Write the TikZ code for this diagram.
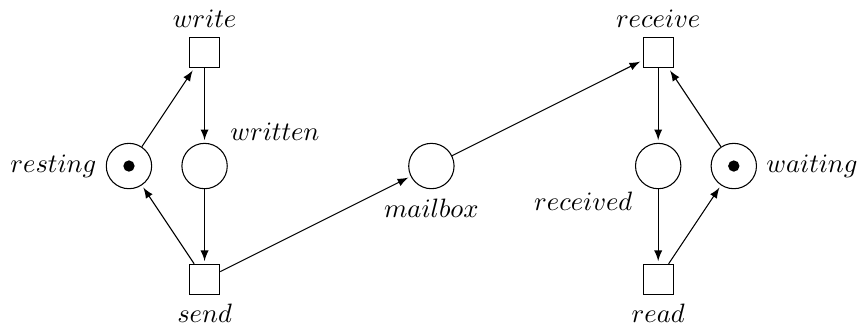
\documentclass[tikz,border=0pt]{standalone}
\usetikzlibrary{arrows}
\begin{document}
\begin{tikzpicture}[
  place/.style={circle,draw,minimum size=6mm,inner sep=0pt},
  transition/.style={rectangle,draw,minimum size=4mm,inner sep=0pt},
  token/.style={circle,fill=black,draw=none,inner sep=0pt,minimum size=1.5mm},
  arc/.style={->,>=latex,shorten >=1pt},
  line width=0.4pt]
\useasboundingbox (-1.706,-2.130) rectangle (9.643,2.196);

% sender
\node[place,label=left:$resting$] (resting) at (0,0) {};
\node[token] (tokresting) at (resting) {};
\node[place,label=above right:$written$] (written) at (1,0) {};
\node[transition,label=above:$write$] (write) at (1,1.5) {};
\node[transition,label=below:$send$] (send) at (1,-1.5) {};

% channel
\node[place,label=below:$mailbox$] (mailbox) at (4,0) {};

% receiver
\node[place,label=below left:$received$] (received) at (7,0) {};
\node[place,label=right:$waiting$] (waiting) at (8,0) {};
\node[token] (tokwaiting) at (waiting) {};
\node[transition,label=above:$receive$] (receive) at (7,1.5) {};
\node[transition,label=below:$read$] (read) at (7,-1.5) {};

% arcs
\draw[arc] (resting) -- (write);
\draw[arc] (write) -- (written);
\draw[arc] (written) -- (send);
\draw[arc] (send) -- (resting);
\draw[arc] (send) -- (mailbox);
\draw[arc] (mailbox) -- (receive);
\draw[arc] (receive) -- (received);
\draw[arc] (received) -- (read);
\draw[arc] (read) -- (waiting);
\draw[arc] (waiting) -- (receive);
\end{tikzpicture}
\end{document}
